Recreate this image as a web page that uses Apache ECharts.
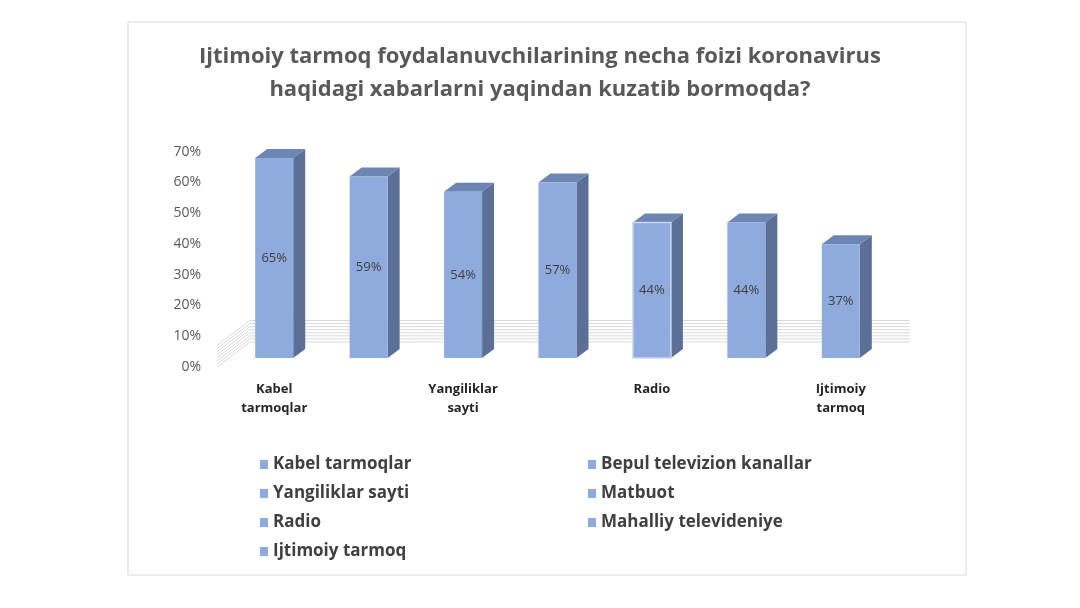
<!DOCTYPE html><html><head><meta charset="utf-8"><script src="https://cdn.jsdelivr.net/npm/echarts@6/dist/echarts.min.js"></script>
<style>html,body{margin:0;background:#fff}#c{width:1080px;height:608px}</style></head><body><div id="c"></div><script>
const categories=['Kabel\ntarmoqlar','Bepul\ntelevizion\nkanallar','Yangiliklar\nsayti','Matbuot','Radio','Mahalliy\ntelevideniye','Ijtimoiy\ntarmoq'];
const legendNames=['Kabel tarmoqlar','Bepul televizion kanallar','Yangiliklar sayti','Matbuot','Radio','Mahalliy televideniye','Ijtimoiy tarmoq'];
const values=[65,59,54,57,44,44,37];
const gridTicks=[0,10,20,30,40,50,60,70];
const chart=echarts.init(document.getElementById('c'));
const FRONT='#8FAADC',SIDE='#5B6F97',TOP='#6D85B3';
const series=[{
 type:'custom',xAxisIndex:0,yAxisIndex:0,z:1,silent:true,data:gridTicks,
 renderItem:(p,api)=>{const c=api.coord([0,api.value(0)]);const y=c[1];
  return {type:'polyline',shape:{points:[[217,y+9],[250,y-16],[910,y-16]]},style:{stroke:'#d9d9d9',lineWidth:1,fill:null}};}
},{
 type:'custom',xAxisIndex:0,yAxisIndex:0,z:3,data:values.map((v,i)=>[i,v]),
 renderItem:(p,api)=>{const i=api.value(0),v=api.value(1);const t=api.coord([i,v]),b=api.coord([i,0]);
  const w=38,dx=12,dy=9,x0=t[0]-w/2,x1=t[0]+w/2;const radio=i===4;
  return {type:'group',children:[
   {type:'polygon',shape:{points:[[x1,t[1]],[x1+dx,t[1]-dy],[x1+dx,b[1]-dy],[x1,b[1]]]},style:{fill:SIDE}},
   {type:'polygon',shape:{points:[[x0,t[1]],[x0+dx,t[1]-dy],[x1+dx,t[1]-dy],[x1,t[1]]]},style:{fill:TOP}},
   {type:'rect',shape:{x:x0,y:t[1],width:w,height:b[1]-t[1]},style:{fill:FRONT,stroke:radio?'#C9D7F0':null,lineWidth:radio?1.5:0}},
   {type:'text',style:{text:v+'%',x:t[0],y:(t[1]+b[1])/2,align:'center',verticalAlign:'middle',fill:'#404040',font:'13px "Open Sans", sans-serif'}}
  ]};}
}];
legendNames.forEach(n=>series.push({type:'bar',name:n,data:[],itemStyle:{color:FRONT}}));
const lg=(names,left,top)=>({data:names,left,top,orient:'vertical',itemGap:12,icon:'rect',itemWidth:8,itemHeight:9,selectedMode:false,
 textStyle:{fontSize:17,fontWeight:'bold',color:'#404040',fontFamily:'"Open Sans", sans-serif'}});
chart.setOption({
 animation:false,
 title:{text:'Ijtimoiy tarmoq foydalanuvchilarining necha foizi koronavirus\nhaqidagi xabarlarni yaqindan kuzatib bormoqda?',left:'center',top:35,
  textStyle:{fontSize:22,fontWeight:'bold',color:'#595959',lineHeight:33,fontFamily:'"Open Sans", sans-serif'}},
 graphic:[{type:'rect',shape:{x:128,y:22,width:838,height:553},style:{fill:null,stroke:'#d9d9d9',lineWidth:1},z:-1}],
 grid:[{left:227,right:192,top:142.6,bottom:250},{left:227,right:192,top:151.6,bottom:241}],
 xAxis:[{type:'category',gridIndex:0,data:categories,axisLine:{show:false},axisTick:{show:false},
  axisLabel:{margin:22,color:'#262626',fontWeight:'bold',fontSize:13,lineHeight:19,fontFamily:'"Open Sans", sans-serif'}},
  {type:'category',gridIndex:1,data:categories,show:false}],
 yAxis:[{type:'value',gridIndex:0,min:0,max:70,interval:10,show:false},
  {type:'value',gridIndex:1,min:0,max:70,interval:10,axisLine:{show:false},axisTick:{show:false},splitLine:{show:false},
   axisLabel:{formatter:'{value}%',margin:26,color:'#595959',fontSize:14,fontFamily:'"Open Sans", sans-serif'}}],
 legend:[lg(['Kabel tarmoqlar','Yangiliklar sayti','Radio','Ijtimoiy tarmoq'],255,451),lg(['Bepul televizion kanallar','Matbuot','Mahalliy televideniye'],583,451)],
 series
});
</script></body></html>
